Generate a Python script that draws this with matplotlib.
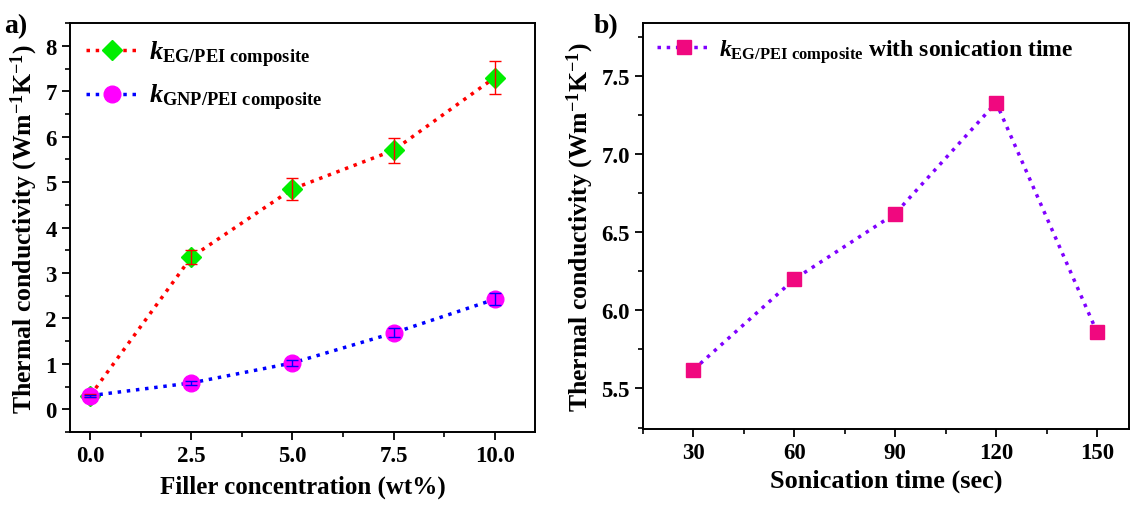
import matplotlib
matplotlib.use("Agg")
import matplotlib.pyplot as plt
from matplotlib.ticker import MultipleLocator, AutoMinorLocator, FormatStrFormatter

plt.rcParams['font.family'] = 'Liberation Serif'
plt.rcParams['font.weight'] = 'bold'
plt.rcParams['mathtext.fontset'] = 'custom'
plt.rcParams['mathtext.rm'] = 'Liberation Serif:bold'
plt.rcParams['mathtext.it'] = 'Liberation Serif:italic:bold'
plt.rcParams['mathtext.bf'] = 'Liberation Serif:bold'

# panel a
filler = [0.0, 2.5, 5.0, 7.5, 10.0]
k_eg = [0.30, 3.35, 4.85, 5.70, 7.30]
k_eg_err = [0.03, 0.15, 0.24, 0.28, 0.37]
k_gnp = [0.30, 0.58, 1.02, 1.68, 2.42]
k_gnp_err = [0.02, 0.04, 0.07, 0.10, 0.13]

# panel b
sonic_time = [30, 60, 90, 120, 150]
k_sonic = [5.62, 6.20, 6.62, 7.33, 5.86]

ylab = r'Thermal conductivity (Wm$^{\mathbf{-1}}$K$^{\mathbf{-1}}$)'

fig = plt.figure(figsize=(11.37, 5.06), dpi=100)
ax1 = fig.add_axes([0.0616, 0.1443, 0.409, 0.808])
ax2 = fig.add_axes([0.5655, 0.150, 0.4275, 0.8026])

ax1.plot(filler, k_eg, ':', color='red', lw=2.5, marker='D', ms=10.5,
         mfc='#00ee00', mec='#00ee00', label=r'$\mathit{k}_{\mathrm{EG/PEI\ composite}}$')
ax1.plot(filler, k_gnp, ':', color='blue', lw=2.5, marker='o', ms=12,
         mfc='magenta', mec='magenta', label=r'$\mathit{k}_{\mathrm{GNP/PEI\ composite}}$')
ax1.errorbar(filler, k_eg, yerr=k_eg_err, fmt='none', ecolor='red', elinewidth=1, capsize=4, zorder=5)
ax1.errorbar(filler, k_gnp, yerr=k_gnp_err, fmt='none', ecolor='blue', elinewidth=1, capsize=4, zorder=5)
ax1.set_xlim(-0.5, 11.0)
ax1.set_ylim(-0.5, 8.5)
ax1.xaxis.set_major_locator(MultipleLocator(2.5))
ax1.xaxis.set_minor_locator(AutoMinorLocator(2))
ax1.yaxis.set_major_locator(MultipleLocator(1))
ax1.yaxis.set_minor_locator(AutoMinorLocator(2))
ax1.xaxis.set_major_formatter(FormatStrFormatter('%.1f'))
ax1.set_xlabel('Filler concentration (wt%)', fontsize=18, fontweight='bold', labelpad=6)
ax1.set_ylabel(ylab, fontsize=18.5, fontweight='bold')
ax1.legend(loc='upper left', frameon=False, fontsize=19, handlelength=2.0,
           handletextpad=0.4, borderaxespad=0.2, labelspacing=0.5)

ax2.plot(sonic_time, k_sonic, ':', color='#8000ff', lw=2.5, marker='s', ms=10,
         mfc='#f0087f', mec='#f0087f',
         label=r'$\mathit{k}_{\mathrm{EG/PEI\ composite}}$ with sonication time')
ax2.set_xlim(15, 159.5)
ax2.set_ylim(5.24, 7.84)
ax2.xaxis.set_major_locator(MultipleLocator(30))
ax2.xaxis.set_minor_locator(AutoMinorLocator(2))
ax2.yaxis.set_major_locator(MultipleLocator(0.5))
ax2.yaxis.set_minor_locator(AutoMinorLocator(2))
ax2.yaxis.set_major_formatter(FormatStrFormatter('%.1f'))
ax2.set_xlabel('Sonication time (sec)', fontsize=19, fontweight='bold')
ax2.set_ylabel(ylab, fontsize=18.5, fontweight='bold')
ax2.legend(loc='upper left', frameon=False, fontsize=17, handlelength=2.3,
           borderaxespad=0.2, handletextpad=0.3)

for ax in (ax1, ax2):
    ax.tick_params(which='major', direction='out', length=6, width=1.3, labelsize=16.5,
                   top=False, right=False)
    ax.tick_params(which='minor', direction='out', length=3.5, width=1.2, top=False, right=False)
    for s in ax.spines.values():
        s.set_linewidth(1.4)
    for lbl in ax.get_xticklabels() + ax.get_yticklabels():
        lbl.set_fontweight('bold')

fig.text(0.004, 0.935, 'a)', fontsize=20, fontweight='bold')
fig.text(0.522, 0.935, 'b)', fontsize=20, fontweight='bold')

fig.savefig('out.png', dpi=100)
